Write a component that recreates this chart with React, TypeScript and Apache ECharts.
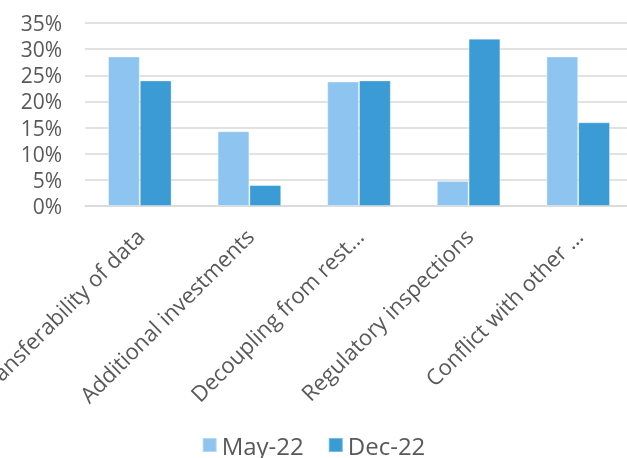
import React, { useEffect, useRef } from "react";
import * as echarts from "echarts";

// Share of respondents naming each concern, two survey waves
const categories = [
  "Transferability of data",
  "Additional investments",
  "Decoupling from rest…",
  "Regulatory inspections",
  "Conflict with other …",
];
const seriesNames = ["May-22", "Dec-22"];
const may22 = [0.286, 0.143, 0.238, 0.048, 0.286];
const dec22 = [0.24, 0.04, 0.24, 0.32, 0.16];
const yTicks = { min: 0, max: 0.35, interval: 0.05 };

const FONT = "'Open Sans', 'Noto Sans', sans-serif";
const TEXT = "#595959";
const GRID = "#d9d9d9";

export default function App() {
  const ref = useRef<HTMLDivElement>(null);

  useEffect(() => {
    if (!ref.current) return;
    const chart = echarts.init(ref.current, undefined, { renderer: "svg" });
    chart.setOption({
      animation: false,
      textStyle: { fontFamily: FONT },
      grid: {
        left: 85,
        right: -6,
        top: 23,
        bottom: 252,
        containLabel: false,
        outerBoundsMode: "none",
      },
      legend: {
        data: seriesNames,
        top: 428,
        left: "center",
        icon: "rect",
        itemWidth: 14,
        itemHeight: 14,
        itemGap: 24,
        textStyle: { fontSize: 24, color: TEXT, fontFamily: FONT },
      },
      xAxis: {
        type: "category",
        data: categories,
        axisTick: { show: false },
        axisLine: { lineStyle: { color: GRID, width: 1.5 } },
        axisLabel: {
          interval: 0,
          rotate: 45,
          margin: 26,
          fontSize: 22,
          color: TEXT,
          fontFamily: FONT,
        },
      },
      yAxis: {
        type: "value",
        min: yTicks.min,
        max: yTicks.max,
        interval: yTicks.interval,
        axisLine: { show: false },
        axisTick: { show: false },
        splitLine: { lineStyle: { color: GRID, width: 1.5 } },
        axisLabel: {
          margin: 23,
          fontSize: 21,
          lineHeight: 21,
          color: TEXT,
          fontFamily: FONT,
          formatter: (v: number) => `${Math.round(v * 100)}%`,
        },
      },
      series: [
        {
          name: seriesNames[0],
          type: "bar",
          data: may22,
          barGap: "0%",
          barCategoryGap: "42%",
          itemStyle: {
            color: "#8EC4F0",
            borderColor: "rgba(255,255,255,0.35)",
            borderWidth: 1,
          },
        },
        {
          name: seriesNames[1],
          type: "bar",
          data: dec22,
          barGap: "0%",
          barCategoryGap: "42%",
          itemStyle: {
            color: "#3A9BD5",
            borderColor: "rgba(255,255,255,0.3)",
            borderWidth: 1,
          },
        },
      ],
    });
    return () => chart.dispose();
  }, []);

  return (
    <div
      ref={ref}
      style={{ position: "fixed", left: 0, top: 0, width: 627, height: 458 }}
    />
  );
}
